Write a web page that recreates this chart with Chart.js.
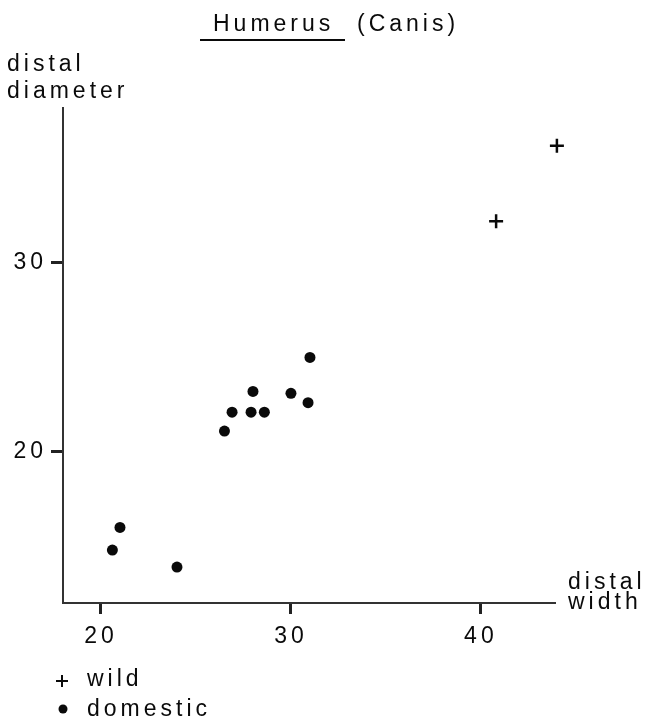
<!DOCTYPE html>
<html>
<head>
<meta charset="utf-8">
<title>Humerus (Canis)</title>
<script src="https://cdn.jsdelivr.net/npm/chart.js@4/dist/chart.umd.min.js"></script>
<style>
  html, body { margin: 0; padding: 0; background: #fff; }
  #wrap { width: 650px; height: 718px; position: relative; }
</style>
</head>
<body>
<div id="wrap"><canvas id="chart"></canvas></div>
<script>
// distal width (x) / distal diameter (y)
const wildX = [44.0, 40.8];
const wildY = [36.2, 32.2];
const domesticX = [20.6, 21.0, 24.0, 26.5, 26.9, 27.9, 28.0, 28.6, 30.0, 30.9, 31.0];
const domesticY = [14.8, 16.0, 13.9, 21.1, 22.1, 22.1, 23.2, 22.1, 23.1, 22.6, 25.0];
const xTicks = [20, 30, 40];
const yTicks = [20, 30];

const FONT = '"Liberation Sans", Arial, sans-serif';
const INK = '#0a0a0a';
const SPACING = '4px';

const toPoints = (xs, ys) => xs.map((x, i) => ({ x, y: ys[i] }));

// title, axis captions and the little key at the bottom
const textPlugin = {
    id: 'figureText',
    beforeDraw(chart) {
        chart.ctx.letterSpacing = SPACING;
    },
    afterDraw(chart) {
        const ctx = chart.ctx;
        ctx.save();
        ctx.letterSpacing = SPACING;
        ctx.fillStyle = INK;
        ctx.font = '23px ' + FONT;
        ctx.textBaseline = 'alphabetic';
        ctx.textAlign = 'left';

        ctx.fillText('Humerus', 213, 31);
        ctx.fillText('(Canis)', 357, 31);
        ctx.fillRect(200, 39, 145, 2);

        ctx.fillText('distal', 7, 71);
        ctx.fillText('diameter', 7, 98);

        ctx.fillText('distal', 568, 589);
        ctx.fillText('width', 568, 609);

        ctx.fillText('wild', 87, 686);
        ctx.fillText('domestic', 87, 716);

        // key symbols
        ctx.strokeStyle = INK;
        ctx.lineWidth = 2;
        ctx.beginPath();
        ctx.moveTo(56, 681); ctx.lineTo(68, 681);
        ctx.moveTo(62, 675); ctx.lineTo(62, 687);
        ctx.stroke();
        ctx.beginPath();
        ctx.arc(63, 709, 4.5, 0, Math.PI * 2);
        ctx.fill();
        ctx.restore();
    }
};

new Chart(document.getElementById('chart'), {
    type: 'scatter',
    data: {
        datasets: [
            {
                label: 'wild',
                data: toPoints(wildX, wildY),
                pointStyle: 'cross',
                pointRadius: 7,
                borderWidth: 2.5,
                borderColor: INK,
                backgroundColor: INK,
                clip: false
            },
            {
                label: 'domestic',
                data: toPoints(domesticX, domesticY),
                pointStyle: 'circle',
                pointRadius: 5.5,
                borderWidth: 0,
                backgroundColor: INK,
                clip: false
            }
        ]
    },
    options: {
        responsive: true,
        maintainAspectRatio: false,
        animation: false,
        layout: { padding: { top: 108, right: 95, left: 0, bottom: 0 } },
        plugins: {
            legend: { display: false },
            tooltip: { enabled: false },
            title: { display: false }
        },
        scales: {
            x: {
                type: 'linear',
                min: 18,
                max: 43.9,
                afterBuildTicks: (s) => { s.ticks = xTicks.map(v => ({ value: v })); },
                afterFit: (s) => { s.height = 115; },
                border: { display: true, color: '#333', width: 2 },
                grid: { drawOnChartArea: false, drawTicks: true, tickLength: 11, tickWidth: 3, tickColor: '#222' },
                ticks: { color: INK, font: { family: FONT, size: 23 }, padding: 9, maxRotation: 0 }
            },
            y: {
                type: 'linear',
                min: 12,
                max: 38.2,
                afterBuildTicks: (s) => { s.ticks = yTicks.map(v => ({ value: v })); },
                afterFit: (s) => { s.width = 63; },
                border: { display: true, color: '#333', width: 2 },
                grid: { drawOnChartArea: false, drawTicks: true, tickLength: 12, tickWidth: 3, tickColor: '#222' },
                ticks: { color: INK, font: { family: FONT, size: 23 }, padding: 4 }
            }
        }
    },
    plugins: [textPlugin]
});
</script>
</body>
</html>
